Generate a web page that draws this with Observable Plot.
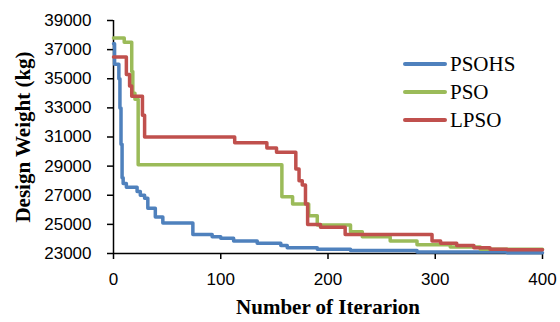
<!DOCTYPE html>
<html>
<head>
<meta charset="utf-8">
<script src="https://cdn.jsdelivr.net/npm/d3@7"></script>
<script src="https://cdn.jsdelivr.net/npm/@observablehq/plot@0.6"></script>
<style>
  html, body { margin: 0; padding: 0; background: #fff; }
  #chart { position: relative; width: 560px; height: 322px; }
  #legend { position: absolute; left: 403px; top: 50px; font-family: "Liberation Serif", "Times New Roman", serif; font-size: 21px; color: #000; }
  #legend .row { display: flex; align-items: center; height: 28px; }
  #legend .sw { width: 44px; height: 4px; margin-right: 3px; border-radius: 2px; }
</style>
</head>
<body>
<div id="chart"></div>
<script>
// Convergence histories: iteration at which each new best weight was reached, and that weight (kg)
const seriesNames = ["PSOHS", "PSO", "LPSO"];
const seriesColors = ["#4F81BD", "#9BBB59", "#C0504D"];

const itPSOHS = [0, 1, 5, 6, 7, 8, 9, 12, 22, 25, 29, 32, 39, 46, 74, 92, 100, 112, 134, 156, 162, 190, 221, 283, 367, 400];
const wPSOHS  = [37400, 36000, 35000, 33000, 30500, 28200, 27800, 27550, 27250, 27000, 26800, 26100, 25500, 25100, 24300, 24150, 24050, 23850, 23700, 23550, 23400, 23300, 23200, 23100, 23050, 23050];

const itPSO = [0, 10, 17, 18, 20, 23, 157, 167, 182, 190, 221, 232, 258, 283, 314, 342, 400];
const wPSO  = [37800, 37500, 35500, 34000, 33600, 29100, 26900, 26400, 25600, 24950, 24500, 24150, 23850, 23600, 23450, 23300, 23300];

const itLPSO = [0, 12, 15, 17, 27, 29, 113, 143, 152, 170, 173, 176, 179, 181, 193, 216, 297, 305, 320, 336, 351, 367, 400];
const wLPSO  = [36500, 35300, 34500, 33800, 32500, 31000, 30600, 30250, 29950, 28800, 28000, 27700, 26400, 25000, 24800, 24300, 23850, 23700, 23550, 23400, 23300, 23250, 23250];

const xTicks = [0, 100, 200, 300, 400];
const yTicks = [23000, 25000, 27000, 29000, 31000, 33000, 35000, 37000, 39000];

const xTitle = "Number of Iterarion";
const yTitle = "Design Weight (kg)";

const histories = [[itPSOHS, wPSOHS], [itPSO, wPSO], [itLPSO, wLPSO]];
const rows = histories.flatMap(([its, ws], k) =>
  its.map((it, i) => ({series: seriesNames[k], it, w: ws[i]})));

const serif = "'Liberation Serif', 'Times New Roman', serif";

const chart = Plot.plot({
  width: 560,
  height: 322,
  marginLeft: 113,
  marginRight: 18,
  marginTop: 20,
  marginBottom: 69,
  style: {fontFamily: "'Liberation Sans', Arial, sans-serif", fontSize: "17px", color: "#000", background: "#fff"},
  x: {domain: [0, 400]},
  y: {domain: [23000, 39000]},
  color: {domain: seriesNames, range: seriesColors},
  marks: [
    Plot.axisX({ticks: xTicks, tickSize: 6, tickPadding: 13, tickFormat: d => String(d), label: null, strokeWidth: 1.5, fontSize: 17}),
    Plot.axisY({ticks: yTicks, tickSize: 6, tickPadding: 16, tickFormat: d => String(d), label: null, strokeWidth: 1.5, fontSize: 17}),
    Plot.ruleX([0], {stroke: "#000", strokeWidth: 1.5}),
    Plot.ruleY([23000], {stroke: "#000", strokeWidth: 1.5}),
    Plot.line(rows, {x: "it", y: "w", z: "series", stroke: "series", strokeWidth: 3.5, curve: "step-after"}),
    Plot.text([xTitle], {frameAnchor: "bottom", dy: 60, lineAnchor: "bottom", fontFamily: serif, fontWeight: "bold", fontSize: 21, fill: "#000"}),
    Plot.text([yTitle], {frameAnchor: "left", dx: -90, rotate: -90, textAnchor: "middle", fontFamily: serif, fontWeight: "bold", fontSize: 21, fill: "#000"})
  ]
});

const host = document.getElementById("chart");
host.appendChild(chart);

// Legend placed over the upper right of the plot area
const legend = document.createElement("div");
legend.id = "legend";
seriesNames.forEach((name, i) => {
  const row = document.createElement("div");
  row.className = "row";
  const sw = document.createElement("span");
  sw.className = "sw";
  sw.style.background = seriesColors[i];
  const label = document.createElement("span");
  label.textContent = name;
  row.appendChild(sw);
  row.appendChild(label);
  legend.appendChild(row);
});
host.appendChild(legend);
</script>
</body>
</html>
